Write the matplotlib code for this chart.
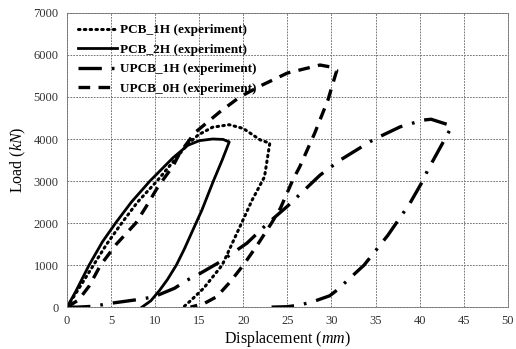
import numpy as np
import matplotlib
matplotlib.use("Agg")
import matplotlib.pyplot as plt

plt.rcParams['font.family'] = ['Liberation Serif', 'DejaVu Serif']
plt.rcParams['mathtext.fontset'] = 'custom'
plt.rcParams['mathtext.rm'] = 'Liberation Serif'
plt.rcParams['mathtext.it'] = 'Liberation Serif:italic'

# PCB_1H (experiment) - loading then unloading
pcb1_x = [0, 1, 3.0, 4.5, 6.2, 8, 10.2, 12, 13.7, 14.9, 16.5, 18.4, 20, 21.9, 23.0,
          22.4, 21.0, 19.8, 17.6, 15.5, 14, 13.2]
pcb1_y = [0, 330, 1000, 1500, 2000, 2500, 3000, 3450, 3880, 4100, 4280, 4340, 4250, 3980, 3900,
          3100, 2548, 2000, 1000, 450, 150, 0]

# PCB_2H (experiment)
pcb2_x = [0, 1, 2.5, 4, 5.5, 7.3, 9.4, 12, 13.7, 15, 16.5, 17.7, 18.4,
          17.6, 16.6, 15.3, 14.2, 13.3, 12.4, 11.4, 10.5, 9.5, 8.5]
pcb2_y = [0, 380, 1000, 1550, 2000, 2500, 3000, 3550, 3850, 3960, 4000, 3990, 3930,
          3500, 3000, 2310, 1800, 1380, 1000, 660, 400, 150, 0]

# UPCB_1H (experiment)
upcb1_x = [0, 1.2, 3, 4.9, 7.7, 9.8, 12.2, 13.6, 15, 17.3, 20.4, 22.8, 25, 28.7, 31, 34.1,
           34.9, 37.8, 40.4, 41.3, 43.4, 43.6,
           43.0, 40.9, 40.4, 38.9, 36.4, 33.7, 30.6, 29.8, 27.9, 26.4, 25, 23.2]
upcb1_y = [0, 0, 20, 90, 170, 240, 450, 640, 790, 1070, 1520, 2000, 2400, 3140, 3500, 3900,
           4000, 4290, 4450, 4470, 4330, 4280,
           4050, 3250, 3020, 2470, 1710, 1000, 400, 270, 130, 50, 10, 0]

# UPCB_0H (experiment)
upcb0_x = [0, 1.3, 2.5, 3.8, 5.6, 7.8, 9, 10.3, 12, 12.8, 14.5, 17.3, 19.6, 21.9, 25, 28.7, 30, 30.6,
           29.6, 28.1, 26.4, 25.6, 24.2, 23.2, 21.5, 20.0, 18.5, 17, 15.5, 14.0]
upcb0_y = [0, 170, 500, 1000, 1500, 2000, 2400, 2860, 3350, 3670, 4150, 4640, 5000, 5260, 5570, 5760, 5710, 5630,
           4930, 4140, 3340, 3020, 2350, 2000, 1450, 1000, 600, 250, 80, 0]

fig = plt.figure(figsize=(5.16, 3.49), dpi=100)
ax = fig.add_axes([0.130, 0.120, 0.854, 0.843])

ax.plot(pcb1_x, pcb1_y, color='black', lw=2.2, linestyle=(0, (0.5, 1.4)),
        dash_capstyle='round', label='PCB_1H (experiment)')
ax.plot(pcb2_x, pcb2_y, color='black', lw=2.0, linestyle='-', label='PCB_2H (experiment)')
ax.plot(upcb1_x, upcb1_y, color='black', lw=2.4, linestyle=(0, (7, 3, 0.8, 3)),
        label='UPCB_1H (experiment)')
ax.plot(upcb0_x, upcb0_y, color='black', lw=2.4, linestyle=(0, (3.5, 2.5)),
        label='UPCB_0H (experiment)')

ax.set_xlim(0, 50)
ax.set_ylim(0, 7000)
ax.set_xticks(np.arange(0, 51, 5))
ax.set_yticks(np.arange(0, 7001, 1000))
ax.tick_params(length=0, labelsize=9, pad=6, colors='#333333')
ax.grid(True, color='#777777', linestyle=(0, (1.8, 1.2)), linewidth=0.7)
for s in ax.spines.values():
    s.set_color('#777777')
    s.set_linestyle((0, (1.8, 1.2)))
    s.set_linewidth(0.7)

ax.set_xlabel(r'Displacement ($\mathit{mm}$)', fontsize=11.5, labelpad=1)
ax.set_ylabel(r'Load ($\mathit{kN}$)', fontsize=11.5, labelpad=4)

leg = ax.legend(loc='upper left', frameon=False, handlelength=2.9, handletextpad=0.25,
                labelspacing=0.55, borderaxespad=0.45, prop={'weight': 'bold', 'size': 9.5})

fig.savefig('out.png', dpi=100)
